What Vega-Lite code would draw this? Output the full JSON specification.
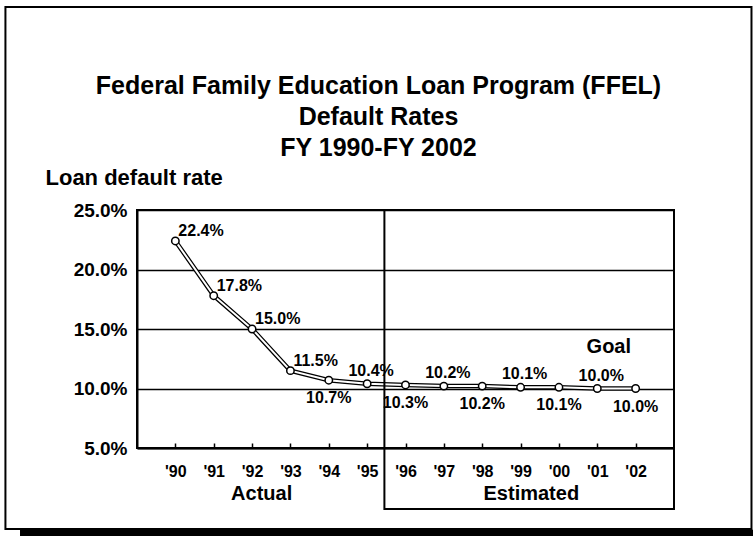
{
  "$schema": "https://vega.github.io/schema/vega-lite/v6.json",
  "width": 537,
  "height": 238,
  "autosize": "none",
  "padding": {"left": 137, "top": 210, "right": 79, "bottom": 88},
  "background": "white",
  "title": {
    "text": ["Federal Family Education Loan Program (FFEL)", "Default Rates", "FY 1990-FY 2002"],
    "font": "Liberation Sans",
    "fontSize": 25,
    "fontWeight": "bold",
    "color": "black",
    "lineHeight": 31,
    "anchor": "middle",
    "baseline": "top",
    "dx": -27,
    "dy": 155,
    "offset": 0
  },
  "config": {
    "font": "Liberation Sans",
    "view": {"stroke": "black", "strokeWidth": 2},
    "axis": {
      "labelFont": "Liberation Sans",
      "labelFontWeight": "bold",
      "labelColor": "black",
      "domainColor": "black",
      "domainWidth": 2,
      "tickColor": "black",
      "titleFont": "Liberation Sans",
      "titleFontWeight": "bold",
      "titleColor": "black"
    }
  },
  "datasets": {
    "rates": [
      {"year": 1990, "rate": 22.4, "label": "22.4%", "pos": "right"},
      {"year": 1991, "rate": 17.8, "label": "17.8%", "pos": "right"},
      {"year": 1992, "rate": 15.0, "label": "15.0%", "pos": "right"},
      {"year": 1993, "rate": 11.5, "label": "11.5%", "pos": "right"},
      {"year": 1994, "rate": 10.7, "label": "10.7%", "pos": "below"},
      {"year": 1995, "rate": 10.4, "label": "10.4%", "pos": "above"},
      {"year": 1996, "rate": 10.3, "label": "10.3%", "pos": "below"},
      {"year": 1997, "rate": 10.2, "label": "10.2%", "pos": "above"},
      {"year": 1998, "rate": 10.2, "label": "10.2%", "pos": "below"},
      {"year": 1999, "rate": 10.1, "label": "10.1%", "pos": "above"},
      {"year": 2000, "rate": 10.1, "label": "10.1%", "pos": "below"},
      {"year": 2001, "rate": 10.0, "label": "10.0%", "pos": "above"},
      {"year": 2002, "rate": 10.0, "label": "10.0%", "pos": "below"}
    ],
    "single": [{"id": 1}]
  },
  "layer": [
    {
      "data": {"name": "rates"},
      "mark": {"type": "line", "color": "black", "strokeWidth": 4.5},
      "encoding": {
        "x": {
          "field": "year", "type": "quantitative",
          "scale": {"domain": [1989, 2003], "nice": false, "zero": false},
          "axis": {
            "title": null,
            "values": [1990, 1991, 1992, 1993, 1994, 1995, 1996, 1997, 1998, 1999, 2000, 2001, 2002],
            "labelExpr": "\"'\" + substring(toString(datum.value), 2, 4)",
            "labelFontSize": 16,
            "tickSize": -5,
            "tickWidth": 1.5,
            "labelPadding": 20,
            "grid": false
          }
        },
        "y": {
          "field": "rate", "type": "quantitative",
          "scale": {"domain": [5, 25], "nice": false, "zero": false},
          "axis": {
            "values": [5, 10, 15, 20, 25],
            "labelExpr": "format(datum.value, '.1f') + '%'",
            "labelFontSize": 19,
            "labelPadding": 10,
            "ticks": false,
            "grid": true,
            "gridColor": "black",
            "gridWidth": 1.5,
            "title": "Loan default rate",
            "titleFontSize": 22,
            "titleAngle": 0,
            "titleAlign": "left",
            "titleBaseline": "alphabetic",
            "titleX": -92,
            "titleY": -26
          }
        }
      }
    },
    {
      "data": {"name": "rates"},
      "mark": {"type": "line", "color": "white", "strokeWidth": 2},
      "encoding": {
        "x": {"field": "year", "type": "quantitative"},
        "y": {"field": "rate", "type": "quantitative"}
      }
    },
    {
      "data": {"name": "rates"},
      "mark": {"type": "point", "shape": "circle", "filled": true, "fill": "white", "stroke": "black", "strokeWidth": 1.5, "size": 55, "opacity": 1},
      "encoding": {
        "x": {"field": "year", "type": "quantitative"},
        "y": {"field": "rate", "type": "quantitative"}
      }
    },
    {
      "data": {"name": "rates"},
      "transform": [{"filter": "datum.pos === 'right'"}],
      "mark": {"type": "text", "align": "left", "baseline": "middle", "dx": 3, "dy": -10, "fontSize": 16, "fontWeight": "bold", "fill": "black"},
      "encoding": {
        "x": {"field": "year", "type": "quantitative"},
        "y": {"field": "rate", "type": "quantitative"},
        "text": {"field": "label"}
      }
    },
    {
      "data": {"name": "rates"},
      "transform": [{"filter": "datum.pos === 'above'"}],
      "mark": {"type": "text", "align": "center", "baseline": "middle", "dx": 4, "dy": -13, "fontSize": 16, "fontWeight": "bold", "fill": "black"},
      "encoding": {
        "x": {"field": "year", "type": "quantitative"},
        "y": {"field": "rate", "type": "quantitative"},
        "text": {"field": "label"}
      }
    },
    {
      "data": {"name": "rates"},
      "transform": [{"filter": "datum.pos === 'below'"}],
      "mark": {"type": "text", "align": "center", "baseline": "middle", "dx": 0, "dy": 18, "fontSize": 16, "fontWeight": "bold", "fill": "black"},
      "encoding": {
        "x": {"field": "year", "type": "quantitative"},
        "y": {"field": "rate", "type": "quantitative"},
        "text": {"field": "label"}
      }
    },
    {
      "data": {"name": "single"},
      "mark": {"type": "rect", "filled": false, "stroke": "black", "strokeWidth": 2, "clip": false},
      "encoding": {
        "x": {"datum": 1995.45, "type": "quantitative"},
        "x2": {"datum": 2003},
        "y": {"datum": 25, "type": "quantitative"},
        "y2": {"datum": -0.13}
      }
    },
    {
      "data": {"name": "single"},
      "mark": {"type": "rect", "filled": false, "stroke": "black", "strokeWidth": 2, "clip": false},
      "encoding": {
        "x": {"datum": 1985.57, "type": "quantitative"},
        "x2": {"datum": 2005.02},
        "y": {"datum": 42.06, "type": "quantitative"},
        "y2": {"datum": -1.81}
      }
    },
    {
      "data": {"name": "single"},
      "mark": {"type": "rect", "fill": "black", "clip": false},
      "encoding": {
        "x": {"datum": 1985.95, "type": "quantitative"},
        "x2": {"datum": 2006},
        "y": {"datum": -1.86, "type": "quantitative"},
        "y2": {"datum": -3.2}
      }
    },
    {
      "data": {"name": "single"},
      "mark": {"type": "text", "fontSize": 20, "fontWeight": "bold", "fill": "black", "baseline": "middle", "align": "center"},
      "encoding": {
        "x": {"datum": 1992.25, "type": "quantitative"},
        "y": {"datum": 1.1, "type": "quantitative"},
        "text": {"value": "Actual"}
      }
    },
    {
      "data": {"name": "single"},
      "mark": {"type": "text", "fontSize": 20, "fontWeight": "bold", "fill": "black", "baseline": "middle", "align": "center"},
      "encoding": {
        "x": {"datum": 1999.28, "type": "quantitative"},
        "y": {"datum": 1.15, "type": "quantitative"},
        "text": {"value": "Estimated"}
      }
    },
    {
      "data": {"name": "single"},
      "mark": {"type": "text", "fontSize": 20, "fontWeight": "bold", "fill": "black", "baseline": "middle", "align": "center"},
      "encoding": {
        "x": {"datum": 2001.3, "type": "quantitative"},
        "y": {"datum": 13.49, "type": "quantitative"},
        "text": {"value": "Goal"}
      }
    }
  ]
}
